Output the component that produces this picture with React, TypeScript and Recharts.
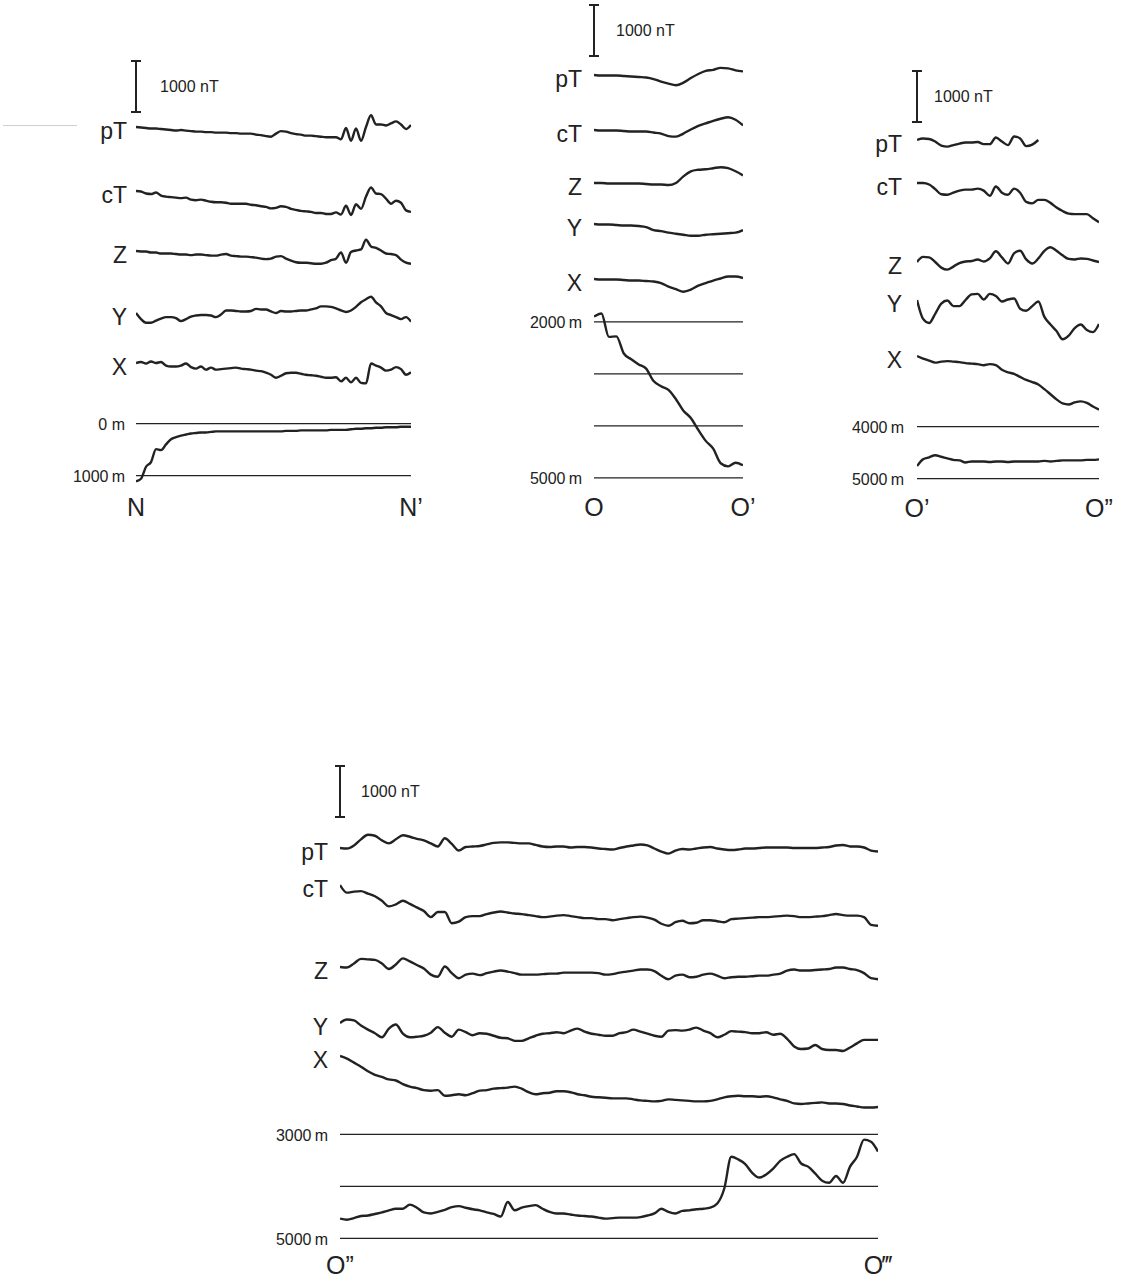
import React from "react";
import { LineChart, Line, XAxis, YAxis, ReferenceLine, ReferenceDot } from "recharts";

const FONT = '"Liberation Sans", Arial, Helvetica, sans-serif';
const INK = "#222";
const PX_PER_NT = 0.051; // 1000 nT ≈ 51 px
const PX_PER_M = 0.052; // 1000 m ≈ 52 px

const profileNames = ["pT", "cT", "Z", "Y", "X"];

// ---- N – N' (anomalies in nT relative to the start of each trace, depth in m)
const nPT = [0,-10,-20,-30,-30,-40,-50,-60,-70,-60,-70,-80,-90,-90,-100,-100,-110,-110,-110,-120,-120,-130,-130,-130,-150,-160,-180,-190,-130,-80,-90,-120,-140,-150,-170,-170,-180,-190,-200,-200,-200,-240,-20,-270,-30,-270,0,230,50,50,30,70,110,50,-40,40];
const nCT = [0,-10,-50,-60,-30,-90,-110,-120,-130,-140,-130,-170,-180,-170,-190,-210,-220,-220,-230,-250,-250,-250,-250,-270,-280,-300,-310,-340,-330,-300,-310,-350,-370,-390,-400,-410,-430,-430,-450,-450,-420,-460,-290,-470,-260,-350,-110,70,-50,-60,-150,-250,-190,-230,-380,-410];
const nZ = [0,-10,-10,-30,-30,-50,-50,-50,-60,-70,-70,-80,-70,-70,-80,-90,-90,-70,-60,-90,-100,-110,-110,-120,-130,-150,-160,-150,-110,-100,-150,-190,-220,-230,-230,-240,-250,-250,-230,-180,-150,-30,-230,-20,10,30,220,90,60,10,-50,-60,-80,-170,-230,-250];
const nY = [0,-120,-190,-190,-150,-110,-80,-80,-100,-160,-120,-70,-50,-40,-40,-50,-80,-30,50,50,40,30,30,40,80,70,70,30,0,40,30,30,40,50,50,70,90,130,130,120,90,50,20,50,120,210,270,320,210,130,0,-40,-80,-120,-80,-170];
const nX = [0,20,-10,30,0,20,-50,-70,-70,-50,-10,-80,-110,-70,-130,-90,-130,-120,-110,-100,-90,-110,-120,-130,-150,-160,-190,-230,-290,-250,-200,-190,-190,-210,-230,-240,-250,-270,-290,-290,-280,-360,-290,-380,-290,-390,-400,-10,-50,-90,-150,-130,-80,-120,-230,-180];
const nDepth = [1110,1060,830,740,490,510,400,300,260,230,210,190,180,170,170,160,150,150,150,150,150,150,150,150,150,150,150,150,150,150,140,140,140,130,130,130,130,130,130,120,120,120,120,110,100,100,90,90,80,80,70,70,70,60,60,60];
const nDepthLines = [0, 1000];
const nDepthTicks = [0, 1000];
const nDepthLabels = ["0 m", "1000\u2009m"];
const nEnds = ["N", "N\u2019"];

// ---- O – O'
const oPT = [0,-10,-10,-10,-20,-30,-40,-50,-80,-130,-170,-200,-150,-60,20,80,100,140,130,90,70];
const oCT = [0,-10,-10,-10,-20,-30,-30,-30,-50,-70,-120,-130,-70,10,80,130,180,220,250,200,90];
const oZ = [0,0,-10,-10,-10,-10,-10,-20,-30,-30,-40,0,130,230,260,270,290,310,290,230,150];
const oY = [0,-10,-10,-20,-30,-30,-40,-60,-120,-140,-170,-190,-210,-230,-230,-210,-200,-190,-180,-170,-120];
const oX = [0,-10,-10,-10,-20,-30,-30,-40,-50,-80,-150,-200,-250,-210,-130,-80,-30,10,50,50,20];
const oDepth = [1900,1840,2290,2280,2610,2720,2820,2900,3140,3240,3310,3490,3710,3850,4080,4290,4440,4720,4780,4710,4760];
const oDepthLines = [2000, 3000, 4000, 5000];
const oDepthTicks = [2000, 5000];
const oDepthLabels = ["2000\u2009m", "5000\u2009m"];
const oEnds = ["O", "O\u2019"];

// ---- O' – O''
const o1PT = [0,30,20,-30,-110,-130,-100,-70,-50,-50,-40,-80,-80,50,-30,-100,70,30,-120,-90,0];
const o1CT = [0,0,-30,-120,-220,-230,-190,-150,-130,-130,-110,-150,-250,-70,-190,-230,-110,-190,-370,-400,-330,-330,-390,-480,-550,-600,-610,-610,-610,-690,-770];
const o1Z = [0,100,90,0,-110,-150,-90,-20,10,20,50,10,70,210,90,-30,170,220,50,-30,70,220,290,220,130,60,50,70,60,30,0];
const o1Y = [0,-370,-450,-270,-70,-10,-120,-120,0,110,120,10,120,80,-30,10,30,-170,-210,-120,-30,-330,-480,-610,-770,-700,-550,-480,-590,-630,-470];
const o1X = [0,-50,-90,-130,-110,-100,-110,-120,-140,-150,-160,-180,-160,-180,-270,-320,-350,-410,-470,-510,-560,-650,-750,-850,-930,-950,-910,-890,-920,-990,-1050];
const o1Depth = [4760,4630,4590,4550,4580,4610,4640,4650,4690,4670,4670,4670,4680,4670,4670,4680,4670,4670,4670,4670,4670,4660,4670,4660,4650,4650,4650,4650,4640,4640,4630];
const o1DepthLines = [4000, 5000];
const o1DepthTicks = [4000, 5000];
const o1DepthLabels = ["4000\u2009m", "5000\u2009m"];
const o1Ends = ["O\u2019", "O\u201d"];

// ---- O'' – O'''
const o2PT = [0,-10,50,170,260,240,150,90,170,250,220,180,150,90,30,190,80,-50,20,30,40,70,100,110,110,100,90,90,60,30,20,30,30,10,20,20,10,-10,-20,-30,0,30,50,70,50,-10,-70,-110,-50,-20,-30,-10,10,20,-10,-30,-40,-30,-10,-10,0,10,10,10,10,0,0,0,0,10,20,50,60,30,30,10,-50,-70];
const o2CT = [0,-150,-130,-120,-170,-220,-310,-420,-380,-310,-370,-440,-510,-630,-530,-530,-750,-720,-630,-610,-610,-570,-540,-520,-540,-560,-570,-590,-610,-630,-620,-600,-590,-610,-630,-650,-650,-670,-670,-690,-670,-650,-630,-620,-640,-680,-760,-800,-730,-700,-750,-740,-690,-690,-710,-730,-670,-660,-650,-640,-630,-630,-620,-610,-600,-610,-630,-630,-620,-610,-590,-570,-590,-600,-600,-630,-780,-800];
const o2Z = [0,-10,70,160,150,140,70,-40,50,170,110,40,-30,-150,-190,10,-120,-220,-150,-130,-160,-120,-90,-70,-90,-120,-150,-150,-150,-140,-130,-130,-110,-110,-110,-110,-110,-120,-150,-140,-110,-90,-70,-50,-50,-80,-170,-240,-170,-150,-200,-190,-150,-130,-170,-220,-200,-190,-190,-180,-170,-170,-150,-130,-70,-50,-70,-70,-60,-50,-40,-10,-10,-40,-60,-120,-220,-240];
const o2Y = [0,70,50,-50,-130,-200,-280,-110,-30,-210,-280,-270,-250,-190,-80,-190,-270,-130,-180,-240,-200,-210,-250,-290,-300,-350,-350,-300,-250,-210,-200,-180,-200,-150,-110,-170,-210,-230,-250,-250,-200,-180,-130,-170,-210,-250,-270,-150,-140,-150,-130,-90,-150,-200,-280,-230,-160,-170,-180,-200,-200,-180,-230,-210,-310,-460,-510,-500,-430,-510,-530,-530,-550,-480,-400,-330,-330,-330];
const o2X = [0,-50,-130,-210,-300,-370,-410,-460,-480,-550,-600,-630,-670,-680,-670,-780,-770,-750,-770,-730,-680,-670,-640,-630,-620,-600,-640,-710,-750,-730,-720,-690,-690,-710,-750,-770,-800,-810,-820,-830,-830,-830,-850,-870,-880,-890,-880,-850,-860,-870,-880,-890,-890,-880,-850,-810,-790,-780,-790,-790,-800,-790,-810,-850,-880,-930,-940,-930,-920,-910,-930,-930,-940,-970,-990,-1010,-1010,-1000];
const o2Depth = [4620,4640,4610,4570,4560,4530,4500,4460,4430,4430,4350,4410,4500,4520,4490,4450,4400,4380,4410,4440,4460,4500,4530,4580,4300,4460,4410,4380,4360,4430,4490,4520,4520,4540,4560,4570,4580,4600,4620,4610,4600,4600,4600,4590,4560,4520,4430,4490,4520,4470,4460,4440,4430,4410,4330,4040,3430,3480,3570,3740,3830,3770,3660,3510,3430,3380,3560,3620,3750,3890,3930,3800,3930,3620,3430,3100,3140,3330];
const o2DepthLines = [3000, 4000, 5000];
const o2DepthTicks = [3000, 5000];
const o2DepthLabels = ["3000\u2009m", "5000\u2009m"];
const o2Ends = ["O\u201d", "O\u2034"];

type PanelSpec = {
  x0: number;
  x1: number;
  labelW: number;
  nameGap: number;
  depthGap: number;
  profTop: number;
  profH: number;
  bar: number;
  barText: number;
  profiles: number[][];
  baselines: number[];
  depth: number[];
  depthRef: [number, number];
  depthDomain: [number, number];
  depthLines: number[];
  depthTicks: number[];
  depthLabels: string[];
  ends: string[];
  endY: number;
};

const panels: PanelSpec[] = [
  {
    x0: 136, x1: 411, labelW: 70, nameGap: 9, depthGap: 11,
    profTop: 50, profH: 350, bar: 112, barText: 24,
    profiles: [nPT, nCT, nZ, nY, nX], baselines: [127, 191, 251, 313, 363],
    depth: nDepth, depthRef: [0, 424], depthDomain: [-300, 1300],
    depthLines: nDepthLines, depthTicks: nDepthTicks, depthLabels: nDepthLabels,
    ends: nEnds, endY: 507,
  },
  {
    x0: 594, x1: 743, labelW: 70, nameGap: 12, depthGap: 12,
    profTop: 0, profH: 310, bar: 56, barText: 22,
    profiles: [oPT, oCT, oZ, oY, oX], baselines: [75, 130, 183, 224, 279],
    depth: oDepth, depthRef: [2000, 322], depthDomain: [1600, 5200],
    depthLines: oDepthLines, depthTicks: oDepthTicks, depthLabels: oDepthLabels,
    ends: oEnds, endY: 507,
  },
  {
    x0: 917, x1: 1099, labelW: 70, nameGap: 15, depthGap: 13,
    profTop: 60, profH: 360, bar: 122, barText: 17,
    profiles: [o1PT, o1CT, o1Z, o1Y, o1X], baselines: [140, 183, 262, 300, 356],
    depth: o1Depth, depthRef: [4000, 427], depthDomain: [3700, 5200],
    depthLines: o1DepthLines, depthTicks: o1DepthTicks, depthLabels: o1DepthLabels,
    ends: o1Ends, endY: 508,
  },
  {
    x0: 340, x1: 878, labelW: 70, nameGap: 12, depthGap: 12,
    profTop: 755, profH: 370, bar: 817, barText: 21,
    profiles: [o2PT, o2CT, o2Z, o2Y, o2X], baselines: [848, 885, 967, 1023, 1056],
    depth: o2Depth, depthRef: [3000, 1134], depthDomain: [2800, 5200],
    depthLines: o2DepthLines, depthTicks: o2DepthTicks, depthLabels: o2DepthLabels,
    ends: o2Ends, endY: 1265,
  },
];

const nearest = (arr: number[], v: number) => {
  let best = 0;
  arr.forEach((a, i) => {
    if (Math.abs(a - v) < Math.abs(arr[best] - v)) best = i;
  });
  return best;
};

function Panel({ p }: { p: PanelSpec }) {
  const plotW = p.x1 - p.x0;
  const xMax = p.depth.length - 1;
  const right = 24;
  const chartW = p.labelW + plotW + right;
  const margin = { top: 0, right, bottom: 0, left: 0 };

  // magnetic profiles: y in nT, 0 at the top edge of the chart
  const baseNT = p.baselines.map((y) => -(y - p.profTop) / PX_PER_NT);
  const loNT = -p.profH / PX_PER_NT;
  const barLo = -(p.bar - p.profTop) / PX_PER_NT;
  const barHi = barLo + 1000;
  const cap = (5 * xMax) / plotW;

  // bathymetry: y in metres, reversed
  const [dTop, dBot] = p.depthDomain;
  const depthTop = p.depthRef[1] - (p.depthRef[0] - dTop) * PX_PER_M;
  const depthPlotH = (dBot - dTop) * PX_PER_M;
  const axisH = 50;

  const nameTick = (t: any) => (
    <text
      x={p.labelW - p.nameGap}
      y={t.y + 4}
      textAnchor="end"
      dominantBaseline="central"
      fontSize={23}
      fill={INK}
      fontFamily={FONT}
    >
      {profileNames[nearest(baseNT, t.payload.value)]}
    </text>
  );

  const depthTick = (t: any) => (
    <text
      x={p.labelW - p.depthGap}
      y={t.y + 1}
      textAnchor="end"
      dominantBaseline="central"
      fontSize={16}
      fill={INK}
      fontFamily={FONT}
    >
      {p.depthLabels[nearest(p.depthTicks, t.payload.value)]}
    </text>
  );

  const endTick = (t: any) => (
    <text
      x={t.x}
      y={p.endY - depthTop}
      textAnchor="middle"
      dominantBaseline="central"
      fontSize={25}
      fill={INK}
      fontFamily={FONT}
    >
      {t.payload.value === 0 ? p.ends[0] : p.ends[1]}
    </text>
  );

  return (
    <>
      <div style={{ position: "absolute", left: p.x0 - p.labelW, top: p.profTop }}>
        <LineChart width={chartW} height={p.profH} margin={margin}>
          <XAxis type="number" dataKey="d" domain={[0, xMax]} hide allowDataOverflow />
          <YAxis
            type="number"
            domain={[loNT, 0]}
            ticks={baseNT}
            interval={0}
            width={p.labelW}
            axisLine={false}
            tickLine={false}
            allowDataOverflow
            tick={nameTick}
          />
          <ReferenceLine
            segment={[{ x: 0, y: barLo }, { x: 0, y: barHi }]}
            stroke={INK}
            strokeWidth={2}
            ifOverflow="visible"
          />
          <ReferenceLine
            segment={[{ x: -cap, y: barLo }, { x: cap, y: barLo }]}
            stroke={INK}
            strokeWidth={2}
            ifOverflow="visible"
          />
          <ReferenceLine
            segment={[{ x: -cap, y: barHi }, { x: cap, y: barHi }]}
            stroke={INK}
            strokeWidth={2}
            ifOverflow="visible"
          />
          <ReferenceDot
            x={0}
            y={(barLo + barHi) / 2}
            r={0}
            fill="none"
            stroke="none"
            ifOverflow="visible"
            label={{
              value: "1000 nT",
              position: "right",
              offset: p.barText,
              fontSize: 16,
              fill: INK,
              fontFamily: FONT,
            }}
          />
          {p.profiles.map((vals, j) => (
            <Line
              key={profileNames[j]}
              data={vals.map((v, i) => ({ d: i, v: baseNT[j] + v }))}
              dataKey="v"
              type="monotone"
              stroke={INK}
              strokeWidth={2.4}
              dot={false}
              activeDot={false}
              isAnimationActive={false}
            />
          ))}
        </LineChart>
      </div>
      <div style={{ position: "absolute", left: p.x0 - p.labelW, top: depthTop }}>
        <LineChart width={chartW} height={depthPlotH + axisH} margin={margin}>
          <XAxis
            type="number"
            dataKey="d"
            domain={[0, xMax]}
            ticks={[0, xMax]}
            interval={0}
            height={axisH}
            axisLine={false}
            tickLine={false}
            allowDataOverflow
            tick={endTick}
          />
          <YAxis
            type="number"
            domain={[dTop, dBot]}
            reversed
            ticks={p.depthTicks}
            interval={0}
            width={p.labelW}
            axisLine={false}
            tickLine={false}
            allowDataOverflow
            tick={depthTick}
          />
          {p.depthLines.map((d) => (
            <ReferenceLine key={d} y={d} stroke={INK} strokeWidth={1.3} />
          ))}
          <Line
            data={p.depth.map((v, i) => ({ d: i, v }))}
            dataKey="v"
            type="monotone"
            stroke={INK}
            strokeWidth={2.4}
            dot={false}
            activeDot={false}
            isAnimationActive={false}
          />
        </LineChart>
      </div>
    </>
  );
}

export default function App() {
  return (
    <div
      style={{
        position: "absolute",
        left: 0,
        top: 0,
        width: 1122,
        height: 1281,
        overflow: "hidden",
        background: "#fff",
        fontFamily: FONT,
      }}
    >
      <div style={{ position: "absolute", left: 3, top: 125, width: 74, height: 1, background: "#cfcfcf" }} />
      {panels.map((p, i) => (
        <Panel key={i} p={p} />
      ))}
    </div>
  );
}
